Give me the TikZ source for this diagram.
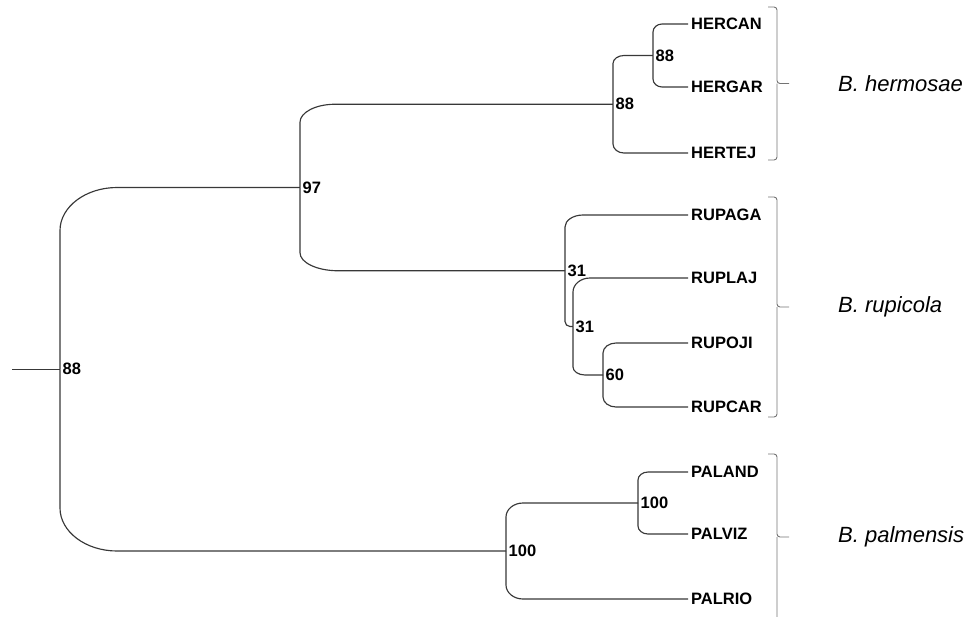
\documentclass[tikz,border=0pt]{standalone}
\usepackage{fontspec}
\setmainfont{Liberation Sans}
\usetikzlibrary{calc}
\begin{document}
\begin{tikzpicture}[x=1pt,y=-1pt,
  tree/.style={draw=black!78, line width=1.15pt},
  brk/.style={draw=black!55, line width=0.9pt, rounded corners=3pt},
  br/.style 2 args={to path={(\tikztostart) -- ($(\tikztostart |- \tikztotarget)!#2!(\tikztostart)$)
     .. controls ($(\tikztostart |- \tikztotarget)!0.45*#2!(\tikztostart)$) and ($(\tikztostart |- \tikztotarget)!0.45*#1!(\tikztotarget)$)
     .. ($(\tikztostart |- \tikztotarget)!#1!(\tikztotarget)$) -- (\tikztotarget)}},
  leaf/.style={anchor=west, inner xsep=3pt, inner ysep=0pt, font=\fontsize{16.5}{17}\selectfont\bfseries},
  bs/.style={anchor=west, inner xsep=2.5pt, inner ysep=0pt, font=\fontsize{16.5}{17}\selectfont\bfseries},
  sp/.style={anchor=west, inner xsep=2pt, inner ysep=0pt, font=\fontsize{22}{24}\selectfont\itshape}]
\useasboundingbox (0,0) rectangle (979,616);
% internal nodes
\coordinate (root) at (60,369.25);
\coordinate (stub) at (12,369.25);
\coordinate (n97) at (300,187.5);
\coordinate (nher) at (613,104.25);
\coordinate (nhc) at (653,55.5);
\coordinate (nrup) at (565,270.75);
\coordinate (n31) at (573,326.5);
\coordinate (n60) at (603,375);
\coordinate (npal) at (506,551);
\coordinate (npa) at (638,503);
% leaves
\node[leaf] (hercan) at (688,24) {HERCAN};
\node[leaf] (hergar) at (688,87) {HERGAR};
\node[leaf] (hertej) at (688,153) {HERTEJ};
\node[leaf] (rupaga) at (688,215) {RUPAGA};
\node[leaf] (ruplaj) at (688,278) {RUPLAJ};
\node[leaf] (rupoji) at (688,343) {RUPOJI};
\node[leaf] (rupcar) at (688,407) {RUPCAR};
\node[leaf] (paland) at (688,472) {PALAND};
\node[leaf] (palviz) at (688,534) {PALVIZ};
\node[leaf] (palrio) at (688,599) {PALRIO};
% branches
\draw[tree] (stub) -- (root);
\draw[tree] (root) to[br={57pt}{43pt}] (n97);
\draw[tree] (root) to[br={57pt}{43pt}] (npal);
\draw[tree] (n97) to[br={35pt}{18pt}] (nher);
\draw[tree] (n97) to[br={38pt}{18pt}] (nrup);
\draw[tree] (nher) to[br={11pt}{8pt}] (nhc);
\draw[tree] (nher) to[br={11pt}{9pt}] (hertej.west);
\draw[tree] (nhc) to[br={9pt}{8pt}] (hercan.west);
\draw[tree] (nhc) to[br={9pt}{8pt}] (hergar.west);
\draw[tree] (nrup) to[br={18pt}{12pt}] (rupaga.west);
\draw[tree] (nrup) to[br={5pt}{5pt}] (n31);
\draw[tree] (n31) to[br={17pt}{14pt}] (ruplaj.west);
\draw[tree] (n31) to[br={12pt}{8pt}] (n60);
\draw[tree] (n60) to[br={13pt}{10pt}] (rupoji.west);
\draw[tree] (n60) to[br={13pt}{10pt}] (rupcar.west);
\draw[tree] (npal) to[br={17pt}{14pt}] (npa);
\draw[tree] (npal) to[br={17pt}{14pt}] (palrio.west);
\draw[tree] (npa) to[br={10pt}{8pt}] (paland.west);
\draw[tree] (npa) to[br={10pt}{8pt}] (palviz.west);
% bootstrap values
\node[bs] (b1) at (root) {88};
\node[bs] (b2) at (n97) {97};
\node[bs] (b3) at (nher) {88};
\node[bs] (b4) at (nhc) {88};
\node[bs] (b5) at (nrup) {31};
\node[bs] (b6) at (n31) {31};
\node[bs] (b7) at (n60) {60};
\node[bs] (b8) at (npal) {100};
\node[bs] (b9) at (npa) {100};
% brackets
\draw[brk] (768,7) -| (777,83.5) -- (789,83.5);
\draw[brk] (768,160) -| (777,83.5);
\draw[brk] (768,197) -| (777,307) -- (789,307);
\draw[brk] (768,417) -| (777,307);
\draw[brk] (768,454) -| (777,537) -- (789,537);
\draw[brk] (768,620) -| (777,537);
% species
\node[sp] (s1) at (836,83.5) {B. hermosae};
\node[sp] (s2) at (836,307) {B. rupicola};
\node[sp] (s3) at (836,537) {B. palmensis};
\end{tikzpicture}
\end{document}
